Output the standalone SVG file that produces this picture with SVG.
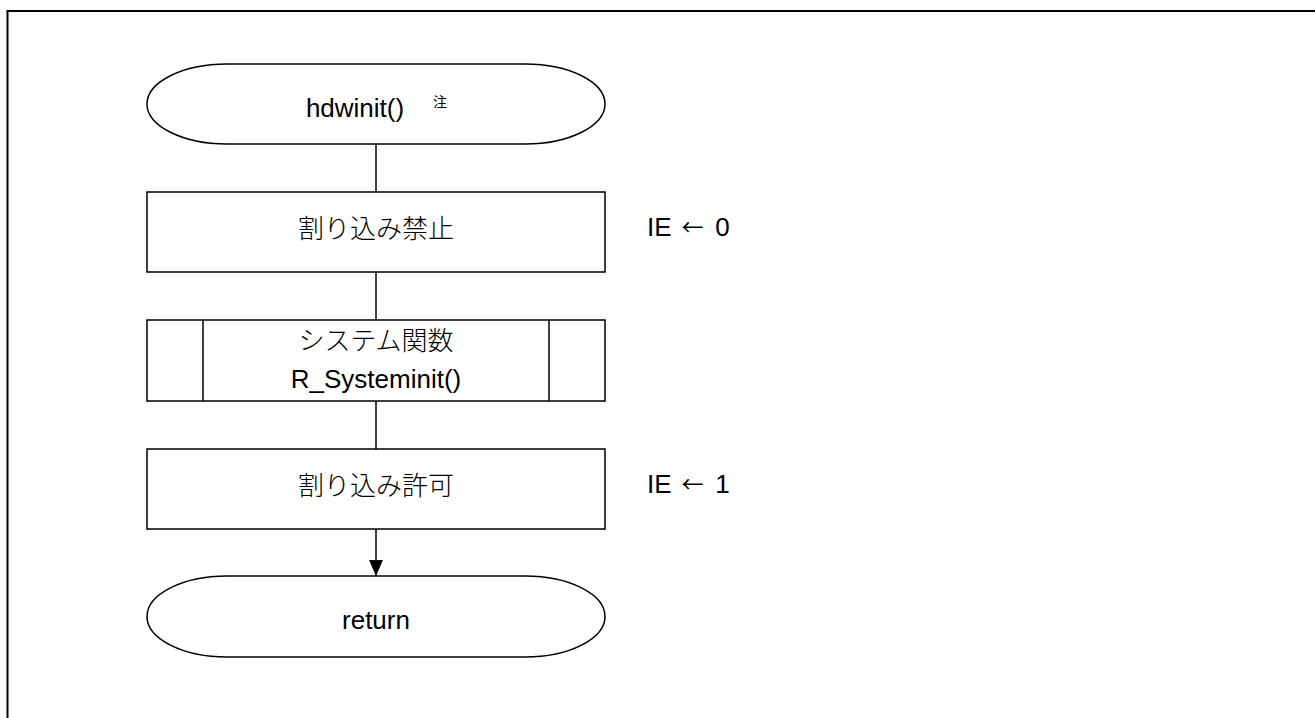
<svg xmlns="http://www.w3.org/2000/svg" width="1315" height="718" viewBox="0 0 1315 718">
<style>
.shape{fill:#fff;stroke:#000;stroke-width:1.5}
.line{stroke:#000;stroke-width:1.5;fill:none}
.lat{font-family:"Liberation Sans",Arial,sans-serif;font-size:26px;fill:#000;text-anchor:middle}
.cjk{font-family:"Noto Sans CJK JP","Liberation Sans",sans-serif;font-size:26px;font-weight:300;fill:#000;text-anchor:middle}
.arrow{font-family:"Noto Sans CJK JP",sans-serif;font-size:22px;fill:#000;text-anchor:middle}
.note{font-family:"Noto Sans CJK JP",sans-serif;font-size:14px;fill:#000;text-anchor:middle}
</style>
<defs>
<marker id="arr" viewBox="0 0 16 14" refX="16" refY="7" markerWidth="16" markerHeight="14" markerUnits="userSpaceOnUse" orient="auto">
<path d="M0,0 L16,7 L0,14 z" fill="#000"/>
</marker>
</defs>
<path d="M7.5,718 V11 H1315" fill="none" stroke="#000" stroke-width="2"/>
<g id="connectors">
<line class="line" x1="376" y1="144" x2="376" y2="192"/>
<line class="line" x1="376" y1="272" x2="376" y2="320"/>
<line class="line" x1="376" y1="401" x2="376" y2="449"/>
<line class="line" x1="376" y1="529" x2="376" y2="576" marker-end="url(#arr)"/>
</g>
<g id="start">
<rect class="shape" x="147" y="64" width="458" height="80" rx="80" ry="40"/>
<text class="lat" x="355" y="117">hdwinit()</text>
<text class="note" x="440" y="107">注</text>
</g>
<g id="disable">
<rect class="shape" x="147" y="192" width="458" height="80"/>
<text class="cjk" x="376" y="238">割り込み禁止</text>
<text class="lat" x="647" y="236" style="text-anchor:start">IE</text>
<text class="arrow" x="692.5" y="235">←</text>
<text class="lat" x="722.5" y="236">0</text>
</g>
<g id="sysinit">
<rect class="shape" x="147" y="320" width="458" height="81"/>
<line class="line" x1="203" y1="320" x2="203" y2="401"/>
<line class="line" x1="549" y1="320" x2="549" y2="401"/>
<text class="cjk" x="376" y="350">システム関数</text>
<text class="lat" x="376" y="388">R_Systeminit()</text>
</g>
<g id="enable">
<rect class="shape" x="147" y="449" width="458" height="80"/>
<text class="cjk" x="376" y="495">割り込み許可</text>
<text class="lat" x="647" y="493" style="text-anchor:start">IE</text>
<text class="arrow" x="692.5" y="492">←</text>
<text class="lat" x="722.5" y="493">1</text>
</g>
<g id="return">
<rect class="shape" x="147" y="576" width="458" height="81" rx="80" ry="40.5"/>
<text class="lat" x="376" y="629">return</text>
</g>
</svg>
